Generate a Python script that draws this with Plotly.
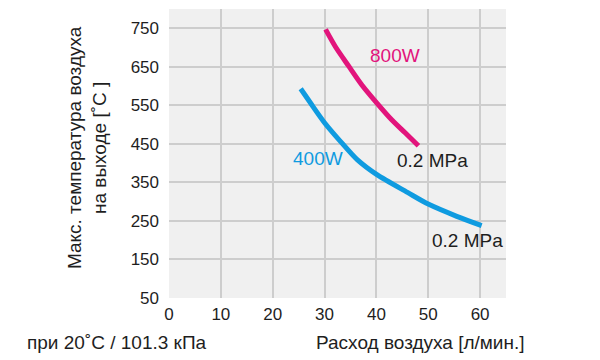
import plotly.graph_objects as go

# Data
flow_800w = [30.2, 32.1, 34.7, 37.2, 40.1, 43.0, 45.6, 48.1]
temp_800w = [747, 702, 651, 603, 556, 512, 478, 445]

flow_400w = [25.4, 27.3, 30.0, 33.1, 36.3, 40.1, 46.0, 50.1, 55.5, 60.3]
temp_400w = [593, 556, 505, 456, 409, 370, 324, 293, 262, 238]

x_ticks = [0, 10, 20, 30, 40, 50, 60]
y_ticks = [50, 150, 250, 350, 450, 550, 650, 750]

MAGENTA = "#e2147c"
BLUE = "#0f9be0"
TXT = "#1e1e1e"
FONT = "Liberation Sans, Arial, sans-serif"

fig = go.Figure()
fig.add_trace(go.Scatter(x=flow_800w, y=temp_800w, mode="lines",
                         line=dict(color=MAGENTA, width=5, shape="spline", smoothing=0.8),
                         showlegend=False, hoverinfo="skip"))
fig.add_trace(go.Scatter(x=flow_400w, y=temp_400w, mode="lines",
                         line=dict(color=BLUE, width=5, shape="spline", smoothing=0.8),
                         showlegend=False, hoverinfo="skip"))

# page body has an 8px margin; figure sized to fit the 600x360 window
fig.update_layout(
    width=592, height=352,
    margin=dict(l=161, r=94, t=1, b=62),
    paper_bgcolor="white", plot_bgcolor="#f0f0f0",
    font=dict(family=FONT, size=17, color=TXT),
    xaxis=dict(range=[0, 65], tickvals=x_ticks, showgrid=True, gridcolor="#cdcdcd",
               gridwidth=1.5, zeroline=False, showline=False, ticks="",
               ticklabelstandoff=4, tickfont=dict(size=17, color=TXT)),
    yaxis=dict(range=[50, 800], tickvals=y_ticks, showgrid=True, gridcolor="#cdcdcd",
               gridwidth=1.5, zeroline=False, showline=False, ticks="",
               ticklabelstandoff=9, tickfont=dict(size=17, color=TXT)),
)

labels = [
    (43.5, 679, "800W", MAGENTA),
    (50.9, 406, "0.2 MPa", TXT),
    (28.75, 413, "400W", BLUE),
    (57.6, 198, "0.2 MPa", TXT),
]
for lx, ly, txt, col in labels:
    fig.add_annotation(x=lx, y=ly, xref="x", yref="y", text=txt, showarrow=False,
                       xanchor="center", yanchor="middle",
                       font=dict(size=19, color=col, family=FONT))

# Y axis title (two rotated lines)
fig.add_annotation(xref="paper", yref="paper", x=-0.243, y=0.519, textangle=-90,
                   xanchor="center", yanchor="middle",
                   text="Макс. температура воздуха<br>на выходе [˚C ]", showarrow=False,
                   font=dict(size=19, color=TXT, family=FONT), align="center")
# X axis title
fig.add_annotation(xref="paper", yref="paper", x=0.745, y=-0.153, xanchor="center",
                   yanchor="middle", text="Расход воздуха [л/мин.]", showarrow=False,
                   font=dict(size=19, color=TXT, family=FONT))
# Conditions note
fig.add_annotation(xref="paper", yref="paper", x=-0.427, y=-0.153, xanchor="left",
                   yanchor="middle", text="при 20˚C / 101.3 кПа", showarrow=False,
                   font=dict(size=19, color=TXT, family=FONT))

fig.write_html("out.html")
